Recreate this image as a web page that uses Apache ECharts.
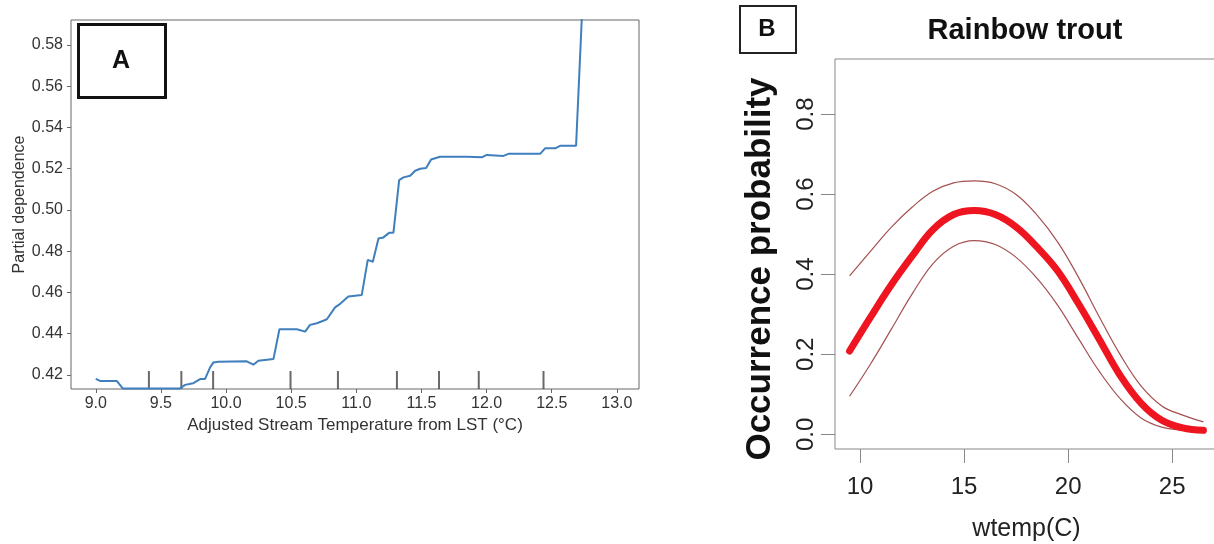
<!DOCTYPE html>
<html>
<head>
<meta charset="utf-8">
<script src="https://cdn.jsdelivr.net/npm/echarts@6/dist/echarts.min.js"></script>
<style>
  html, body { margin: 0; padding: 0; background: #fff; }
  #chart { width: 1214px; height: 544px; }
</style>
</head>
<body>
<div id="chart"></div>
<script>
// panel A: partial dependence vs adjusted stream temperature
const aTemp = [9.000, 9.033, 9.161, 9.207, 9.647, 9.686, 9.749, 9.801, 9.839, 9.878, 9.903, 9.941,
  10.159, 10.172, 10.210, 10.248, 10.364, 10.410, 10.543, 10.607, 10.645, 10.697, 10.747, 10.774,
  10.837, 10.876, 10.939, 11.042, 11.088, 11.127, 11.170, 11.208, 11.254, 11.285, 11.329, 11.362,
  11.413, 11.452, 11.490, 11.536, 11.574, 11.643, 11.848, 11.963, 12.002, 12.129, 12.168, 12.411,
  12.449, 12.526, 12.564, 12.687, 12.731];
const aDep = [0.4181, 0.4171, 0.4171, 0.4135, 0.4135, 0.4152, 0.4160, 0.4180, 0.4181, 0.4237, 0.4261, 0.4264,
  0.4266, 0.4273, 0.4250, 0.4269, 0.4277, 0.4422, 0.4422, 0.4410, 0.4443, 0.4451, 0.4463, 0.4470,
  0.4528, 0.4545, 0.4580, 0.4588, 0.4758, 0.4749, 0.4862, 0.4867, 0.4890, 0.4890, 0.5145, 0.5158,
  0.5166, 0.5190, 0.5200, 0.5203, 0.5245, 0.5258, 0.5258, 0.5255, 0.5267, 0.5262, 0.5272, 0.5272,
  0.5299, 0.5299, 0.5311, 0.5311, 0.5930];
const aRug = [9.408, 9.657, 9.901, 10.495, 10.859, 11.312, 11.635, 11.940, 12.437];
const aXTicks = [9.0, 9.5, 10.0, 10.5, 11.0, 11.5, 12.0, 12.5, 13.0];
const aYTicks = [0.42, 0.44, 0.46, 0.48, 0.50, 0.52, 0.54, 0.56, 0.58];

// panel B: rainbow trout occurrence probability vs water temperature
const bTemp = [9.5, 10.5, 11.5, 12.5, 13.5, 14.5, 15.5, 16.5, 17.5, 18.5, 19.5, 20.5, 21.5, 22.5, 23.5, 24.5, 25.5, 26.5];
const bMean = [0.208, 0.292, 0.373, 0.445, 0.511, 0.549, 0.559, 0.549, 0.518, 0.468, 0.408, 0.326, 0.237, 0.147, 0.078, 0.035, 0.016, 0.010];
const bUpper = [0.396, 0.457, 0.517, 0.567, 0.607, 0.628, 0.633, 0.626, 0.599, 0.548, 0.480, 0.392, 0.293, 0.199, 0.121, 0.071, 0.048, 0.031];
const bLower = [0.095, 0.175, 0.262, 0.350, 0.426, 0.470, 0.484, 0.474, 0.442, 0.390, 0.322, 0.239, 0.157, 0.089, 0.041, 0.018, 0.010, 0.005];
const bXTicks = [10, 15, 20, 25];
const bYTicks = [0.0, 0.2, 0.4, 0.6, 0.8];

const font = "'Liberation Sans', Arial, sans-serif";
const aYMin = 0.4132;

const pairs = (xs, ys) => xs.map((x, i) => [x, ys[i]]);

const myChart = echarts.init(document.getElementById('chart'));
myChart.setOption({
  animation: false,
  backgroundColor: '#fff',
  grid: [
    { left: 71, top: 20, width: 568, height: 369, show: true, borderColor: '#666', borderWidth: 1,
      outerBoundsMode: 'none' },
    { left: 835, top: 59, width: 383, height: 390, show: true, borderColor: '#888', borderWidth: 1,
      outerBoundsMode: 'none' }
  ],
  xAxis: [
    {
      gridIndex: 0, type: 'value', min: 8.81, max: 13.17,
      axisLine: { show: false, onZero: false },
      splitLine: { show: false },
      axisTick: { show: true, length: 4, lineStyle: { color: '#666' }, customValues: aXTicks },
      axisLabel: { customValues: aXTicks, margin: 7, color: '#333', fontSize: 16, fontFamily: font,
        formatter: v => v.toFixed(1) },
      name: 'Adjusted Stream Temperature from LST (°C)', nameLocation: 'middle', nameGap: 25,
      nameTextStyle: { color: '#333', fontSize: 17, fontFamily: font }
    },
    {
      gridIndex: 1, type: 'value', min: 8.8, max: 27.2,
      axisLine: { show: false, onZero: false },
      splitLine: { show: false },
      axisTick: { show: true, length: 14, lineStyle: { color: '#888' }, customValues: bXTicks },
      axisLabel: { customValues: bXTicks, margin: 26, color: '#222', fontSize: 24, fontFamily: font },
      name: 'wtemp(C)', nameLocation: 'middle', nameGap: 68,
      nameTextStyle: { color: '#222', fontSize: 25, fontFamily: font }
    }
  ],
  yAxis: [
    {
      gridIndex: 0, type: 'value', min: aYMin, max: 0.5921,
      axisLine: { show: false, onZero: false },
      splitLine: { show: false },
      axisTick: { show: true, length: 4, lineStyle: { color: '#666' }, customValues: aYTicks },
      axisLabel: { customValues: aYTicks, margin: 8, color: '#333', fontSize: 16, fontFamily: font,
        formatter: v => v.toFixed(2) },
      name: 'Partial dependence', nameLocation: 'middle', nameGap: 43,
      nameTextStyle: { color: '#333', fontSize: 16, fontFamily: font }
    },
    {
      gridIndex: 1, type: 'value', min: -0.0367, max: 0.9375,
      axisLine: { show: false, onZero: false },
      splitLine: { show: false },
      axisTick: { show: true, length: 14, lineStyle: { color: '#888' }, customValues: bYTicks },
      axisLabel: { customValues: bYTicks, margin: 17, rotate: 90, color: '#222', fontSize: 24, fontFamily: font,
        formatter: v => v.toFixed(1) }
    }
  ],
  series: [
    {
      type: 'line', xAxisIndex: 0, yAxisIndex: 0, data: pairs(aTemp, aDep),
      symbol: 'none', clip: true,
      lineStyle: { color: '#3f7fbd', width: 2 }
    },
    {
      type: 'scatter', xAxisIndex: 0, yAxisIndex: 0,
      data: aRug.map(x => [x, aYMin]), clip: false,
      symbol: 'rect', symbolSize: [2, 18], symbolOffset: [0, -9],
      itemStyle: { color: '#444' }
    },
    {
      type: 'line', xAxisIndex: 1, yAxisIndex: 1, data: pairs(bTemp, bUpper),
      symbol: 'none', smooth: 0.4,
      lineStyle: { color: '#a4504f', width: 1.2 }
    },
    {
      type: 'line', xAxisIndex: 1, yAxisIndex: 1, data: pairs(bTemp, bLower),
      symbol: 'none', smooth: 0.4,
      lineStyle: { color: '#a4504f', width: 1.2 }
    },
    {
      type: 'line', xAxisIndex: 1, yAxisIndex: 1, data: pairs(bTemp, bMean),
      symbol: 'none', smooth: 0.4,
      lineStyle: { color: '#ee1520', width: 7, cap: 'round', join: 'round' }
    }
  ],
  graphic: [
    { type: 'rect', shape: { x: 78.5, y: 24.5, width: 87, height: 73 },
      style: { fill: '#fff', stroke: '#111', lineWidth: 3 }, z: 10 },
    { type: 'text', x: 121, y: 61, z: 11,
      style: { text: 'A', font: 'bold 25px ' + font, fill: '#111', align: 'center', verticalAlign: 'middle' } },
    { type: 'rect', shape: { x: 740, y: 6, width: 56, height: 47 },
      style: { fill: '#fff', stroke: '#222', lineWidth: 2 }, z: 10 },
    { type: 'text', x: 767, y: 29, z: 11,
      style: { text: 'B', font: 'bold 24px ' + font, fill: '#111', align: 'center', verticalAlign: 'middle' } },
    { type: 'text', x: 1025, y: 31, z: 11,
      style: { text: 'Rainbow trout', font: 'bold 29px ' + font, fill: '#111', align: 'center', verticalAlign: 'middle' } },
    { type: 'text', x: 760, y: 269, rotation: Math.PI / 2, z: 11,
      style: { text: 'Occurrence probability', font: 'bold 35px ' + font, fill: '#111', align: 'center', verticalAlign: 'middle' } }
  ]
});
</script>
</body>
</html>
